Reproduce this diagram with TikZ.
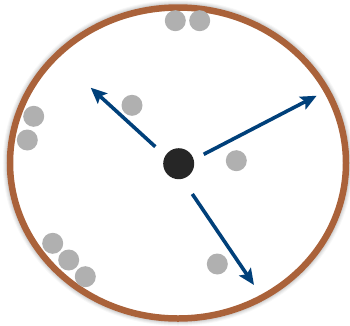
\documentclass[tikz,border=0pt]{standalone}
\usetikzlibrary{arrows.meta}
\definecolor{rim}{RGB}{170,98,58}
\definecolor{ball}{RGB}{176,176,176}
\definecolor{core}{RGB}{38,38,38}
\definecolor{arr}{RGB}{0,64,122}
\begin{document}
\begin{tikzpicture}[x=1pt,y=-1pt,
  particle/.style={circle,fill=ball,inner sep=0pt,minimum size=21pt},
  nucleus/.style={circle,fill=core,inner sep=0pt,minimum size=31pt},
  vec/.style={arr,line width=3.6pt,-{Stealth[length=16pt,width=14pt,inset=3pt]}}]
\useasboundingbox (0,0) rectangle (350,325);
% soft shadow
\foreach \d/\o in {4/0.03,3/0.04,2/0.05,1/0.06}
  \draw[black,opacity=\o,line width=6.5pt+2*\d pt] (178,163) ellipse [x radius=168, y radius=155.5];
\draw[rim,line width=6.5pt,fill=white] (178,163) ellipse [x radius=168, y radius=155.5];
% particles
\node[particle] (p1) at (175.3,20.7) {};
\node[particle] (p2) at (199.7,20.7) {};
\node[particle] (p3) at (132,105.3) {};
\node[particle] (p4) at (33.7,116.3) {};
\node[particle] (p5) at (27.3,140) {};
\node[particle] (p6) at (236.3,160.7) {};
\node[particle] (p7) at (52.7,243.3) {};
\node[particle] (p8) at (68.7,260) {};
\node[particle] (p9) at (85.3,276.7) {};
\node[particle] (p10) at (217.3,264) {};
% nucleus
\node[nucleus] (c) at (178.7,163.7) {};
% arrows
\coordinate (s1) at (155.3,146.7); \coordinate (e1) at (90.7,87.7);
\coordinate (s2) at (203.7,154.3); \coordinate (e2) at (316.7,95.7);
\coordinate (s3) at (192.3,194);   \coordinate (e3) at (254,285);
\draw[vec] (s1) -- (e1);
\draw[vec] (s2) -- (e2);
\draw[vec] (s3) -- (e3);
\end{tikzpicture}
\end{document}
